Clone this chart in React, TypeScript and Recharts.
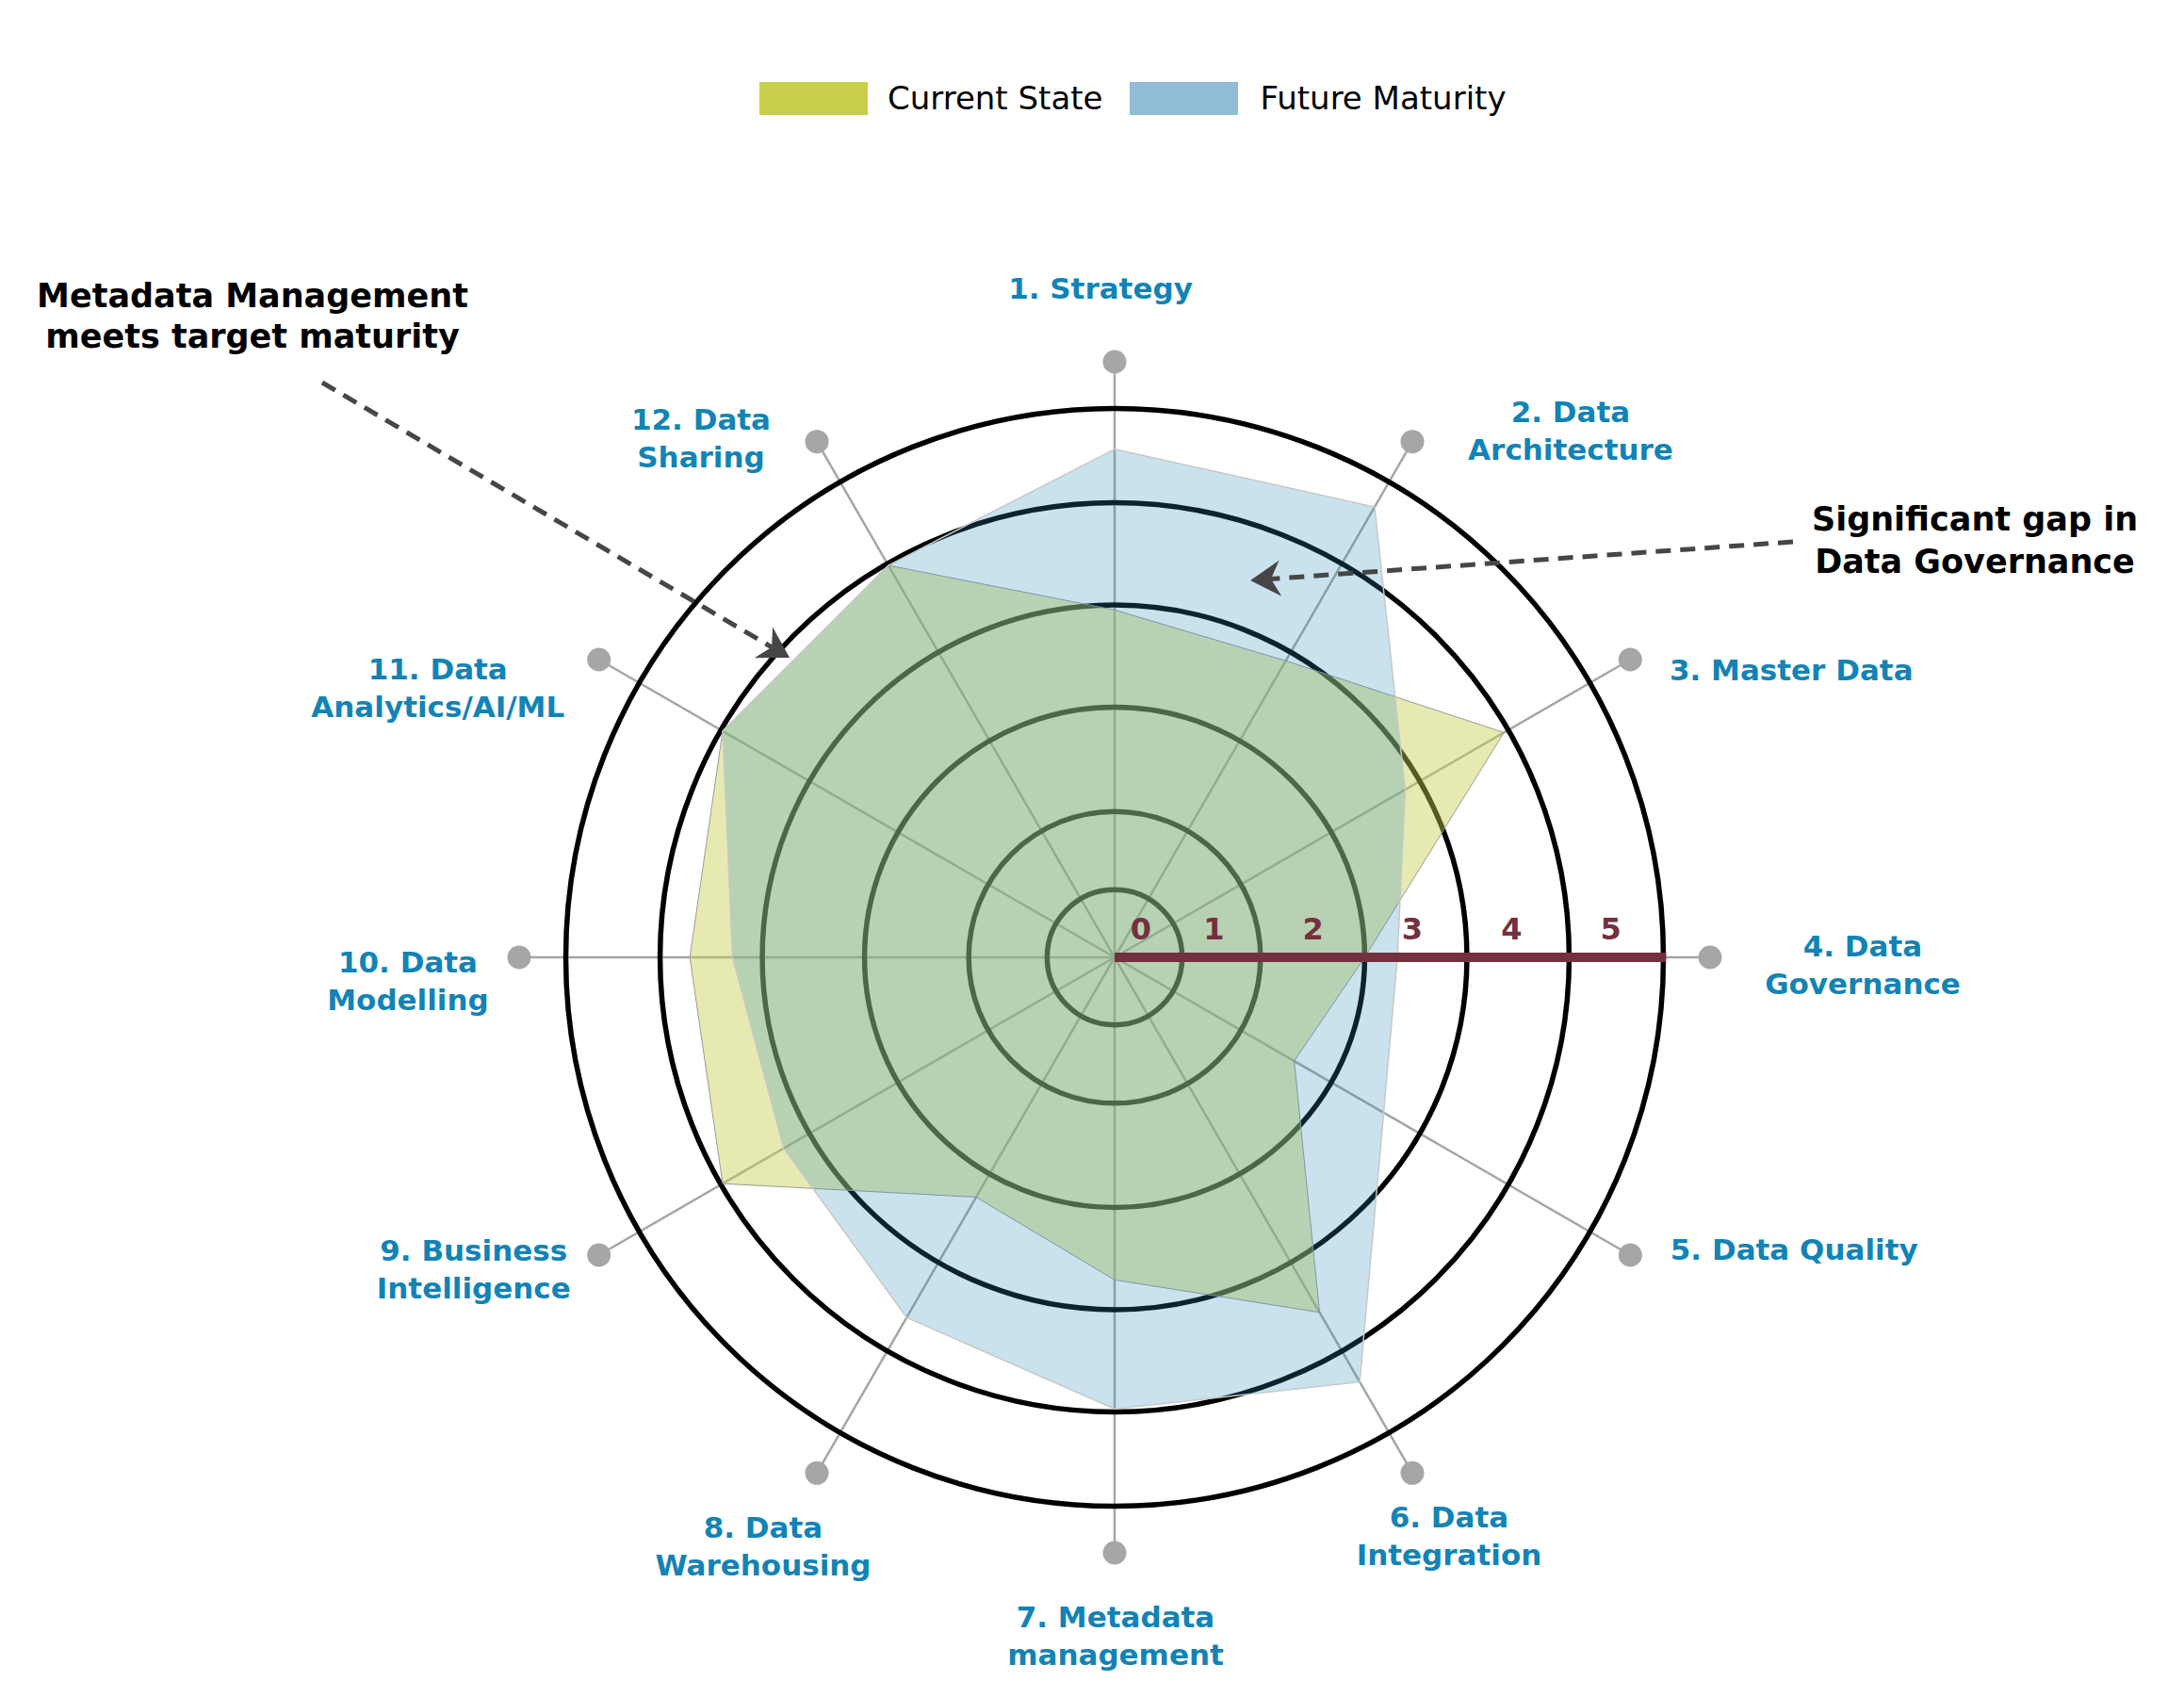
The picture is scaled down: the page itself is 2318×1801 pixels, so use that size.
import React from 'react'
import {
  RadarChart,
  Radar,
  PolarGrid,
  PolarAngleAxis,
  PolarRadiusAxis,
  Legend,
} from 'recharts'

// axis labels, clockwise from the top ("\n" = line break)
const categories = [
  '1. Strategy',
  '2. Data\nArchitecture',
  '3. Master Data',
  '4. Data\nGovernance',
  '5. Data Quality',
  '6. Data\nIntegration',
  '7. Metadata\nmanagement',
  '8. Data\nWarehousing',
  '9. Business\nIntelligence',
  '10. Data\nModelling',
  '11. Data\nAnalytics/AI/ML',
  '12. Data\nSharing',
]

const currentState = [3.5, 3.45, 4.53, 2.52, 2.09, 4.13, 3.25, 2.79, 4.56, 4.28, 4.56, 4.56]
const futureMaturity = [5.12, 5.24, 3.38, 2.85, 3.13, 4.94, 4.55, 4.19, 3.85, 3.85, 4.56, 4.56]

const scaleTicks = [0, 1, 2, 3, 4, 5]
const ringLevels = [0.68, 1.47, 2.52, 3.55, 4.58, 5.53]

const data = categories.map((name, i) => ({
  name,
  current: currentState[i],
  future: futureMaturity[i],
}))

// layout
const W = 2318
const H = 1801
const CX = 1183
const CY = 1016
const OUTER = 632
const MAX = 6
const TICK_GAP = 8
const RING_W = 5.5
const FONT = '"DejaVu Sans", sans-serif'
const BLUE_TEXT = '#1283b6'
const MAROON = '#74303f'

const px = (v: number) => (v / MAX) * OUTER

// label block centre, relative to the angle-axis tick point
const labelOffsets: [number, number][] = [
  [-15, -70],
  [164, -5],
  [164, 15],
  [154, 8],
  [167, -10],
  [35, 60],
  [1, 80],
  [-53, 71],
  [-126, 11],
  [-110, 25],
  [-164, 34],
  [-119, 3],
]

const swatch: Record<string, string> = {
  current: '#c8cf4a',
  future: '#8fbdd6',
}

const AngleTick = (props: any) => {
  const { x, y, index, payload } = props
  const k = OUTER / (OUTER + TICK_GAP)
  const dotX = CX + (x - CX) * k
  const dotY = CY + (y - CY) * k
  const [ox, oy] = labelOffsets[index] || [0, 0]
  const lines = String(payload.value).split('\n')
  const lineH = 40
  const fs = 31
  const lx = x + ox
  const first = y + oy - ((lines.length - 1) * lineH) / 2 + fs * 0.36
  return (
    <g>
      <circle cx={dotX} cy={dotY} r={12.5} fill="#a6a6a6" />
      <text
        x={lx}
        textAnchor="middle"
        style={{ fontFamily: FONT, fontSize: fs, fontWeight: 700, fill: BLUE_TEXT }}
      >
        {lines.map((l, i) => (
          <tspan key={i} x={lx} y={first + i * lineH}>
            {l}
          </tspan>
        ))}
      </text>
    </g>
  )
}

const RadiusTick = (props: any) => {
  const { x, y, payload, index } = props
  if (payload.value > scaleTicks[scaleTicks.length - 1]) return null
  const barEnd = CX + px(ringLevels[ringLevels.length - 1]) + RING_W / 2
  return (
    <g>
      {index === 0 && (
        <line x1={CX} y1={CY} x2={barEnd} y2={CY} stroke={MAROON} strokeWidth={10} />
      )}
      <text
        x={x + (payload.value === 0 ? 28 : 0)}
        y={y - 19}
        textAnchor="middle"
        style={{ fontFamily: FONT, fontSize: 32, fontWeight: 700, fill: MAROON }}
      >
        {payload.value}
      </text>
    </g>
  )
}

const renderLegend = (props: any) => {
  const { payload } = props
  if (!payload) return null
  return (
    <div style={{ display: 'flex', alignItems: 'center', fontFamily: FONT, fontSize: 34, color: '#000' }}>
      {payload.map((entry: any, i: number) => (
        <div
          key={entry.value}
          style={{ display: 'flex', alignItems: 'center', marginLeft: i ? 28 : 0 }}
        >
          <span
            style={{ display: 'inline-block', width: 115, height: 35, background: swatch[entry.dataKey] }}
          />
          <span style={{ marginLeft: i ? 24 : 21, lineHeight: '35px', whiteSpace: 'nowrap' }}>
            {entry.value}
          </span>
        </div>
      ))}
    </div>
  )
}

function Arrow({ from, to }: { from: [number, number]; to: [number, number] }) {
  const dx = to[0] - from[0]
  const dy = to[1] - from[1]
  const len = Math.hypot(dx, dy)
  const ux = dx / len
  const uy = dy / len
  const nx = -uy
  const ny = ux
  const L = 32
  const HW = 19
  const N = 22
  const pts = [
    [to[0], to[1]],
    [to[0] - ux * L + nx * HW, to[1] - uy * L + ny * HW],
    [to[0] - ux * N, to[1] - uy * N],
    [to[0] - ux * L - nx * HW, to[1] - uy * L - ny * HW],
  ]
  return (
    <g>
      <line
        x1={from[0]}
        y1={from[1]}
        x2={to[0] - ux * N}
        y2={to[1] - uy * N}
        stroke="#464646"
        strokeWidth={5}
        strokeDasharray="16 10"
      />
      <polygon points={pts.map((p) => p.join(',')).join(' ')} fill="#464646" />
    </g>
  )
}

const noteStyle = { fontFamily: FONT, fontSize: 35, fontWeight: 700, fill: '#000' }

export default function App() {
  return (
    <div style={{ position: 'absolute', left: 0, top: 0, width: W, height: H, background: '#fff' }}>
      <RadarChart
        width={W}
        height={H}
        data={data}
        cx={CX}
        cy={CY}
        innerRadius={0}
        outerRadius={OUTER}
        margin={{ top: 0, right: 0, bottom: 0, left: 0 }}
      >
        <PolarGrid gridType="circle" polarRadius={[]} radialLines stroke="#a6a6a6" strokeWidth={2.5} />
        <PolarGrid
          gridType="circle"
          polarRadius={ringLevels.map(px)}
          radialLines={false}
          stroke="#000"
          strokeWidth={RING_W}
        />
        <PolarAngleAxis
          dataKey="name"
          axisLine={false}
          tickLine={false}
          tickSize={TICK_GAP}
          tick={(p: any) => <AngleTick {...p} />}
        />
        <PolarRadiusAxis
          angle={0}
          type="number"
          domain={[0, MAX]}
          tickCount={MAX + 1}
          axisLine={false}
          tick={(p: any) => <RadiusTick {...p} />}
        />
        <Radar
          name="Current State"
          dataKey="current"
          fill="#c8cf4a"
          fillOpacity={0.44}
          stroke="#9a9a9a"
          strokeWidth={1}
          dot={false}
          isAnimationActive={false}
        />
        <Radar
          name="Future Maturity"
          dataKey="future"
          fill="#278bbb"
          fillOpacity={0.25}
          stroke="#c8c8c8"
          strokeWidth={1.5}
          dot={false}
          isAnimationActive={false}
        />
        <Legend
          content={renderLegend as any}
          wrapperStyle={{ left: 806, top: 87, width: 'auto', height: 'auto' }}
        />
      </RadarChart>
      <svg
        width={W}
        height={H}
        style={{ position: 'absolute', left: 0, top: 0, pointerEvents: 'none' }}
      >
        <text x={268} textAnchor="middle" style={noteStyle}>
          <tspan x={268} y={326}>Metadata Management</tspan>
          <tspan x={268} y={369}>meets target maturity</tspan>
        </text>
        <Arrow from={[342, 406]} to={[838, 698]} />
        <text x={2096} textAnchor="middle" style={noteStyle}>
          <tspan x={2096} y={563}>Significant gap in</tspan>
          <tspan x={2096} y={608}>Data Governance</tspan>
        </text>
        <Arrow from={[1903, 575]} to={[1327, 616]} />
      </svg>
    </div>
  )
}
